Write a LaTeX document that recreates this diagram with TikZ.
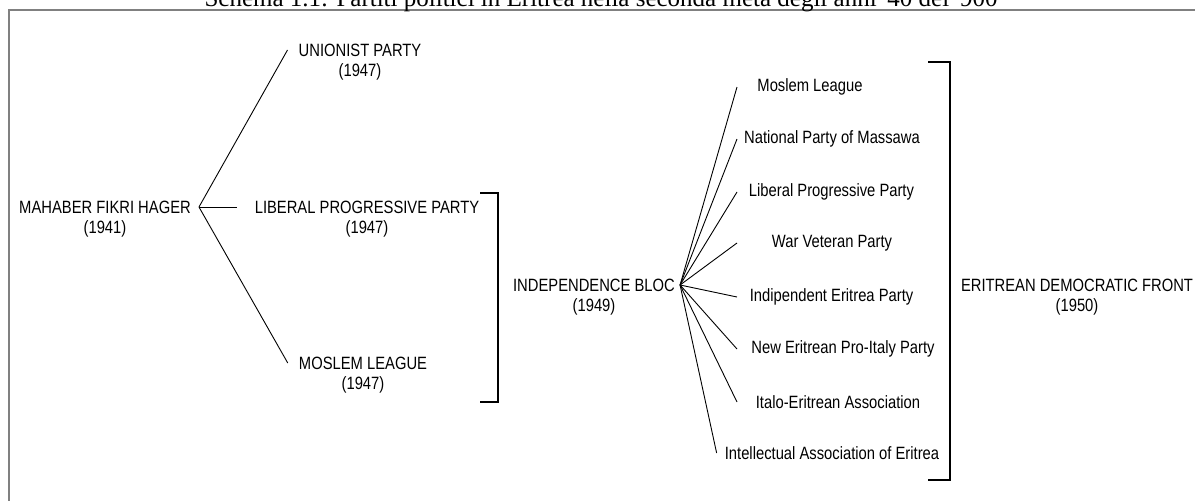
\documentclass[tikz,border=0pt]{standalone}
\usepackage{fontspec}
\setmainfont{Liberation Sans}[FakeStretch=0.83]
\newfontfamily\titlefont{Liberation Serif}
\usetikzlibrary{positioning}
\newcommand\partyfont{\fontsize{17.8}{20}\selectfont}
\tikzset{partychart/.style={x=1pt,y=-1pt}}

\begin{document}
\begin{tikzpicture}[partychart,
  party/.style={inner sep=0pt,font=\partyfont},
  year/.style={party,below=7pt of #1},
  link/.style={line width=0.9pt},
  bracket/.style={line width=1.2pt}]
\useasboundingbox (0,0) rectangle (1195,501);

% frame and caption
\draw[gray,line width=2pt] (9,10) rectangle (1210,520);
\node[font=\titlefont\fontsize{25}{28}\selectfont,anchor=base,inner sep=0pt] (title) at (601,6.5)
  {Schema 1.1: Partiti politici in Eritrea nella seconda metà degli anni '40 del '900};

% 1941 -> 1947
\node[party] (mahaber) at (105,207) {MAHABER FIKRI HAGER};
\node[year=mahaber] (mahaberyr) {(1941)};
\node[party] (unionist) at (360,50) {UNIONIST PARTY};
\node[year=unionist] (unionistyr) {(1947)};
\node[party] (liberal) at (367,207) {LIBERAL PROGRESSIVE PARTY};
\node[year=liberal] (liberalyr) {(1947)};
\node[party] (moslem) at (363,363) {MOSLEM LEAGUE};
\node[year=moslem] (moslemyr) {(1947)};
\coordinate[right=8pt of mahaber] (hub1);
\draw[link] (hub1) -- ([xshift=-11pt]unionist.west);
\draw[link] (hub1) -- ([xshift=-18pt]liberal.west);
\draw[link] (hub1) -- ([xshift=-11pt]moslem.west);
\draw[bracket] (480,193) -| (498,402) -- (480,402);

% 1949
\node[party] (indep) at (594,285) {INDEPENDENCE BLOC};
\node[year=indep] (indepyr) {(1949)};
\coordinate[right=5pt of indep] (hub2);
\node[party] (ml) at (810,87) {Moslem League};
\node[party] (npm) at (832,139) {National Party of Massawa};
\node[party] (lpp) at (831.5,192) {Liberal Progressive Party};
\node[party] (wvp) at (832,243) {War Veteran Party};
\node[party] (iep) at (831.6,297) {Indipendent Eritrea Party};
\node[party] (nepi) at (843,349) {New Eritrean Pro-Italy Party};
\node[party] (iea) at (838,402) {Italo-Eritrean Association};
\node[party] (iae) at (832,453) {Intellectual Association of Eritrea};
\coordinate (fanend) at (737,0);
\draw[link] (hub2) -- (fanend |- ml.west);
\draw[link] (hub2) -- (fanend |- npm.west);
\draw[link] (hub2) -- (fanend |- lpp.west);
\draw[link] (hub2) -- (fanend |- wvp.west);
\draw[link] (hub2) -- (fanend |- iep.west);
\draw[link] (hub2) -- (fanend |- nepi.west);
\draw[link] (hub2) -- (fanend |- iea.west);
\draw[link] (hub2) -- ([xshift=-8pt]iae.west);
\draw[bracket] (928,62) -| (950,480) -- (928,480);

% 1950
\node[party] (edf) at (1077,285) {ERITREAN DEMOCRATIC FRONT};
\node[year=edf] (edfyr) {(1950)};

\end{tikzpicture}
\end{document}
